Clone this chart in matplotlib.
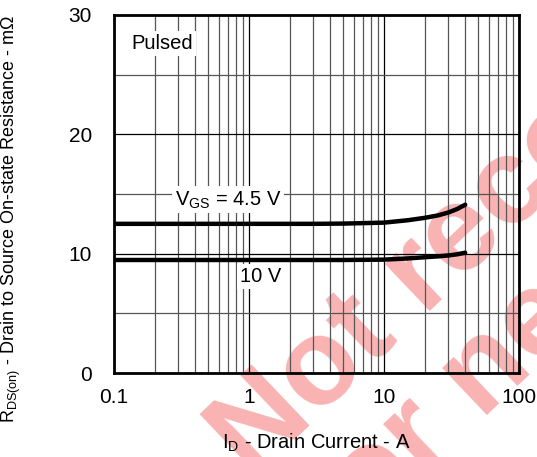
import numpy as np
import matplotlib
matplotlib.use('Agg')
import matplotlib.pyplot as plt
from matplotlib.ticker import FixedLocator, NullFormatter

plt.rcParams['font.family'] = ['Liberation Sans', 'DejaVu Sans']
plt.rcParams['mathtext.fontset'] = 'custom'
plt.rcParams['mathtext.rm'] = 'Liberation Sans'

# drain current (A) and on-resistance (mOhm)
id_a = [0.1, 0.3, 1, 3, 5, 10, 15, 20, 25, 30, 35, 40]
rds_45v = [12.5, 12.5, 12.5, 12.5, 12.52, 12.6, 12.8, 13.0, 13.2, 13.45, 13.75, 14.1]
rds_10v = [9.47, 9.47, 9.47, 9.47, 9.47, 9.5, 9.6, 9.7, 9.77, 9.85, 9.95, 10.08]

x_ticks = [0.1, 1, 10, 100]
x_labels = ['0.1', '1', '10', '100']
y_ticks = [0, 10, 20, 30]

fig = plt.figure(figsize=(5.37, 4.57), dpi=100)

# watermark under the plot
wm = dict(color='#f9b3b3', fontsize=88, fontweight='bold', rotation=43.6,
          rotation_mode='anchor', ha='left', va='baseline', zorder=-5)
fig.text(0.470, -0.050, 'Not recommended', **wm)
fig.text(0.632, -0.216, 'for new design', **wm)

ax = fig.add_axes([0.2123, 0.1838, 0.754, 0.7834])
ax.set_zorder(1)
ax.patch.set_alpha(0)
ax.set_xscale('log')
ax.set_xlim(0.1, 100)
ax.set_ylim(0, 30)

minor_x = [m * d for d in [0.1, 1, 10] for m in range(2, 10)]
ax.xaxis.set_major_locator(FixedLocator(x_ticks))
ax.xaxis.set_minor_locator(FixedLocator(minor_x))
ax.xaxis.set_minor_formatter(NullFormatter())
ax.set_xticks(x_ticks)
ax.set_xticklabels(x_labels)
ax.set_yticks(y_ticks)
ax.yaxis.set_minor_locator(FixedLocator([5, 15, 25]))
ax.tick_params(which='both', length=0, labelsize=15, colors='black')
ax.tick_params(axis='x', pad=11)
ax.tick_params(axis='y', pad=16)

ax.grid(True, which='major', color='black', linewidth=0.9)
ax.grid(True, which='minor', color='#555555', linewidth=0.9)
ax.set_axisbelow(True)
for s in ax.spines.values():
    s.set_linewidth(2)

ax.plot(id_a, rds_45v, color='black', linewidth=3.2, solid_capstyle='round', zorder=3)
ax.plot(id_a, rds_10v, color='black', linewidth=3.2, solid_capstyle='round', zorder=3)

box = dict(facecolor='white', edgecolor='none', pad=2)
ax.text(0.134, 27.6, 'Pulsed', fontsize=14.5, va='center', ha='left', bbox=box, zorder=4)
ax.text(0.283, 14.5, r'V$_{\mathregular{GS}}$ = 4.5 V', fontsize=14.5, va='center',
        ha='left', bbox=box, zorder=4)
ax.text(0.86, 8.1, '10 V', fontsize=14.5, va='center', ha='left', bbox=box, zorder=4)

ax.set_xlabel(r'I$_{\mathregular{D}}$ - Drain Current - A', fontsize=14.5)
ax.set_ylabel(r'R$_{\mathregular{DS(on)}}$ - Drain to Source On-state Resistance - m$\Omega$',
              fontsize=13)
ax.xaxis.set_label_coords(0.5, -0.163)
ax.yaxis.set_label_coords(-0.225, 0.43)

fig.savefig('out.png', dpi=100)
